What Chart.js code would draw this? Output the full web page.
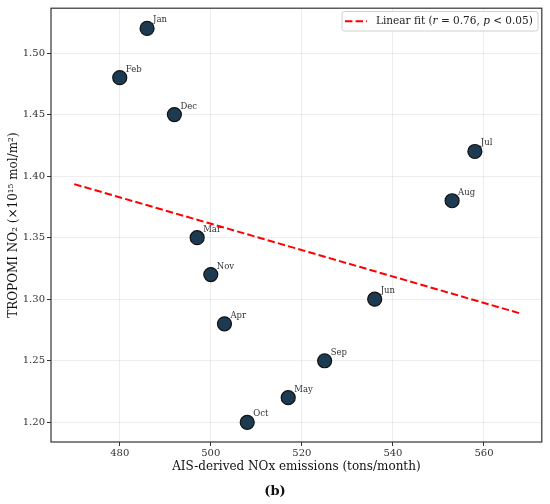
<!DOCTYPE html>
<html>
<head>
<meta charset="utf-8">
<script src="https://cdn.jsdelivr.net/npm/chart.js@4/dist/chart.umd.min.js"></script>
<style>
  body { margin: 0; background: #fff; }
  canvas { display: block; }
</style>
</head>
<body>
<canvas id="chart" width="550" height="504"></canvas>
<script>
// data
const months = ['Jan', 'Feb', 'Mar', 'Apr', 'May', 'Jun', 'Jul', 'Aug', 'Sep', 'Oct', 'Nov', 'Dec'];
const noxEmissions = [486, 480, 497, 503, 517, 536, 558, 553, 525, 508, 500, 492];
const no2Columns = [1.52, 1.48, 1.35, 1.28, 1.22, 1.30, 1.42, 1.38, 1.25, 1.20, 1.32, 1.45];
const fitX = [470, 568];
const fitY = [1.3935, 1.2884];
const xTicks = [480, 500, 520, 540, 560];
const yTicks = [1.20, 1.25, 1.30, 1.35, 1.40, 1.45, 1.50];

const FONT = "'DejaVu Serif', 'Liberation Serif', serif";

// frame, labels next to points, legend and axis titles
const extras = {
  id: 'extras',
  afterDatasetsDraw(chart) {
    const ctx = chart.ctx;
    const a = chart.chartArea;
    const xs = chart.scales.x, ys = chart.scales.y;

    ctx.save();
    // month labels
    ctx.font = '8.5px ' + FONT;
    ctx.fillStyle = '#333';
    ctx.textAlign = 'left';
    ctx.textBaseline = 'alphabetic';
    months.forEach((m, i) => {
      const px = xs.getPixelForValue(noxEmissions[i]);
      const py = ys.getPixelForValue(no2Columns[i]);
      ctx.fillText(m, px + 6, py - 6);
    });

    // frame on all sides
    ctx.strokeStyle = '#333';
    ctx.lineWidth = 1.2;
    ctx.strokeRect(a.left, a.top, a.right - a.left, a.bottom - a.top);

    // legend box
    const bx = 342, by = 11.5, bw = 196, bh = 19.5;
    ctx.fillStyle = 'rgba(255,255,255,0.85)';
    ctx.strokeStyle = '#d0d0d0';
    ctx.lineWidth = 1;
    ctx.beginPath();
    ctx.roundRect(bx, by, bw, bh, 2.5);
    ctx.fill();
    ctx.stroke();
    ctx.strokeStyle = 'red';
    ctx.lineWidth = 2;
    ctx.setLineDash([7.4, 3.2]);
    ctx.beginPath();
    ctx.moveTo(345, by + bh / 2);
    ctx.lineTo(367, by + bh / 2);
    ctx.stroke();
    ctx.setLineDash([]);

    ctx.fillStyle = '#222';
    ctx.textBaseline = 'middle';
    const parts = [
      ['Linear fit (', false], ['r', true], [' = 0.76, ', false], ['p', true], [' < 0.05)', false]
    ];
    let tx = 376;
    parts.forEach(([s, it]) => {
      ctx.font = (it ? 'italic ' : '') + '10.5px ' + FONT;
      ctx.fillText(s, tx, by + bh / 2 + 0.5);
      tx += ctx.measureText(s).width;
    });

    // axis titles
    ctx.fillStyle = '#111';
    ctx.font = '12px ' + FONT;
    ctx.textAlign = 'center';
    ctx.fillText('AIS-derived NOx emissions (tons/month)', (a.left + a.right) / 2, 467);

    ctx.save();
    ctx.translate(14, (a.top + a.bottom) / 2);
    ctx.rotate(-Math.PI / 2);
    ctx.fillText('TROPOMI NO\u2082 (\u00d710\u00b9\u2075 mol/m\u00b2)', 0, 0);
    ctx.restore();

    ctx.font = 'bold 13px ' + FONT;
    ctx.fillText('(b)', 275, 492);
    ctx.restore();
  }
};

const points = noxEmissions.map((x, i) => ({ x: x, y: no2Columns[i] }));
const fitLine = fitX.map((x, i) => ({ x: x, y: fitY[i] }));

new Chart(document.getElementById('chart'), {
  type: 'scatter',
  data: {
    datasets: [{
      label: 'Linear fit',
      data: fitLine,
      showLine: true,
      borderColor: 'red',
      borderWidth: 2,
      borderDash: [7.4, 3.2],
      pointRadius: 0,
      order: 2
    }, {
      label: 'Months',
      data: points,
      backgroundColor: '#1c3a52',
      borderColor: '#111',
      borderWidth: 1.2,
      pointRadius: 7,
      order: 1
    }]
  },
  options: {
    responsive: false,
    animation: false,
    layout: { padding: { left: 0, top: 6, right: 7, bottom: 0 } },
    plugins: { legend: { display: false }, tooltip: { enabled: false } },
    scales: {
      x: {
        type: 'linear',
        min: 464.9,
        max: 572.7,
        afterBuildTicks: s => { s.ticks = xTicks.map(v => ({ value: v })); },
        afterFit: s => { s.height = 62; },
        grid: { color: 'rgba(0,0,0,0.09)', lineWidth: 0.8, tickColor: '#333', tickLength: 4, tickWidth: 1 },
        border: { display: false },
        ticks: { font: { family: FONT, size: 10 }, color: '#333', padding: 1, maxRotation: 0 }
      },
      y: {
        type: 'linear',
        min: 1.184,
        max: 1.5364,
        afterBuildTicks: s => { s.ticks = yTicks.map(v => ({ value: v })); },
        afterFit: s => { s.width = 51; },
        grid: { color: 'rgba(0,0,0,0.09)', lineWidth: 0.8, tickColor: '#333', tickLength: 4, tickWidth: 1 },
        border: { display: false },
        ticks: { font: { family: FONT, size: 10 }, color: '#333', padding: 2, callback: v => v.toFixed(2) }
      }
    }
  },
  plugins: [extras]
});
</script>
</body>
</html>
